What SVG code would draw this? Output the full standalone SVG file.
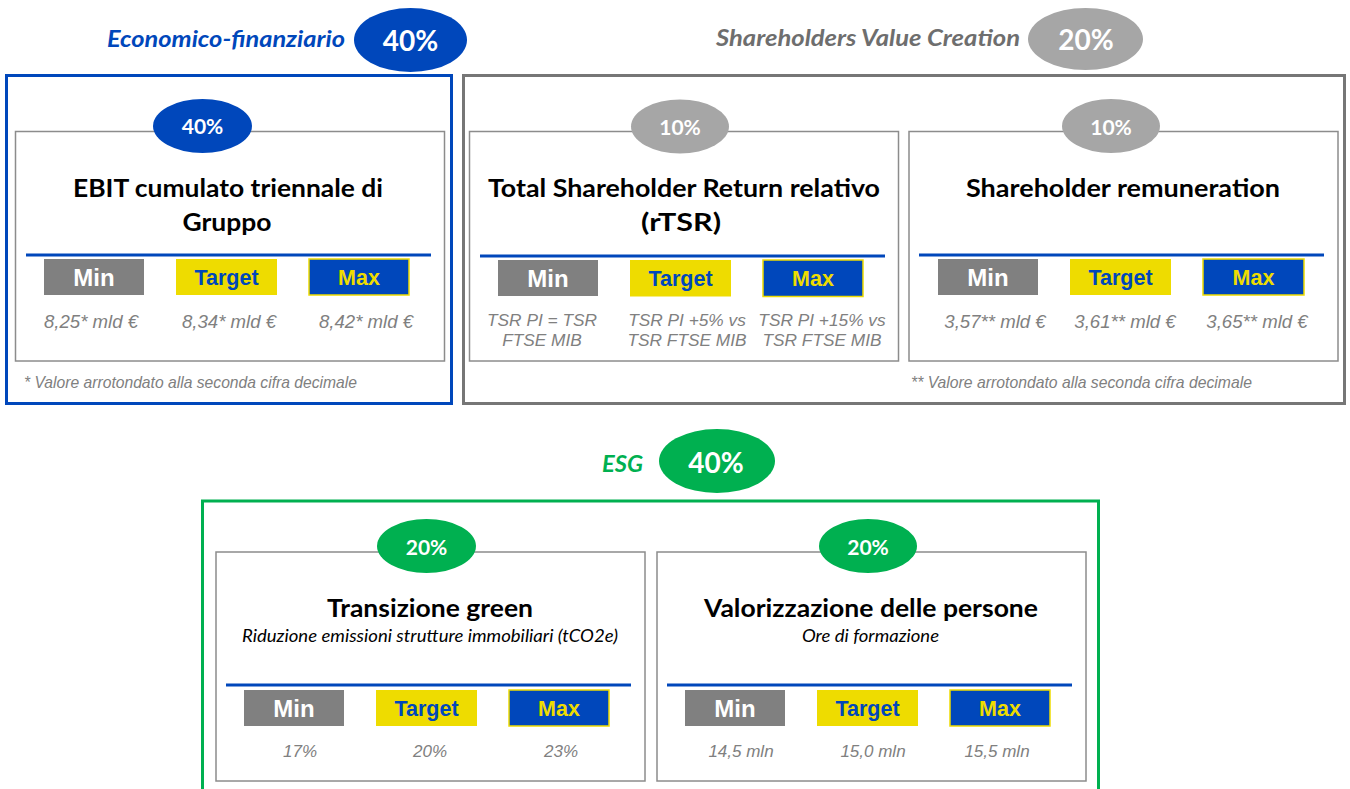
<svg xmlns="http://www.w3.org/2000/svg" width="1350" height="789" viewBox="0 0 1350 789">
  <style>
    .bg { fill: #ffffff; }
    .frame-blue { fill: none; stroke: #0047BB; stroke-width: 3; }
    .frame-gray { fill: none; stroke: #767676; stroke-width: 3; }
    .frame-green { fill: none; stroke: #00B050; stroke-width: 3; }
    .card { fill: #ffffff; stroke: #8C8C8C; stroke-width: 1.5; }
    .rule { stroke: #0047BB; stroke-width: 3; }
    .pill-blue { fill: #0047BB; }
    .pill-gray { fill: #A6A6A6; }
    .pill-green { fill: #00B050; }
    .pct { font-family: Lato, "Open Sans", sans-serif; font-weight: 700; fill: #ffffff; text-anchor: middle; }
    .pct-lg { font-size: 28px; }
    .pct-sm { font-size: 21px; }
    .head { font-family: Lato, "Open Sans", sans-serif; font-weight: 700; font-style: italic; font-size: 23px; }
    .title { font-family: Lato, "Open Sans", sans-serif; font-weight: 700; font-size: 24px; fill: #000000; text-anchor: middle; }
    .sub { font-family: Lato, "Open Sans", sans-serif; font-style: italic; font-size: 17px; fill: #000000; text-anchor: middle; }
    .box-min { fill: #808080; }
    .box-target { fill: #EEDC00; }
    .box-max { fill: #0047BB; stroke: #EEDC00; stroke-width: 1.5; }
    .lbl { font-family: "Liberation Sans", Arial, sans-serif; font-weight: 700; text-anchor: middle; }
    .lbl-min { fill: #ffffff; font-size: 24px; }
    .lbl-target { fill: #0047BB; font-size: 21.5px; }
    .lbl-max { fill: #EEDC00; font-size: 21.5px; }
    .val { font-family: "Liberation Sans", Arial, sans-serif; font-style: italic; fill: #808080; text-anchor: middle; }
    .note { font-family: "Liberation Sans", Arial, sans-serif; font-style: italic; fill: #808080; font-size: 15.7px; }
  </style>

  <rect class="bg" x="0" y="0" width="1350" height="789"/>

  <!-- Economico-finanziario block -->
  <g id="economico-finanziario">
    <text class="head" x="107" y="47" fill="#0047BB" textLength="238" lengthAdjust="spacingAndGlyphs">Economico-finanziario</text>
    <ellipse class="pill-blue" cx="410.5" cy="40" rx="56.5" ry="32"/>
    <text class="pct pct-lg" x="410.5" y="51">40%</text>
    <rect class="frame-blue" x="6.5" y="75.5" width="445" height="328"/>
    <text class="note" x="24" y="388" textLength="333" lengthAdjust="spacingAndGlyphs">* Valore arrotondato alla seconda cifra decimale</text>
  </g>

  <g id="ebit">
    <rect class="card" x="15.5" y="131.5" width="429" height="229.5"/>
    <ellipse class="pill-blue" cx="202.5" cy="126" rx="49.5" ry="27"/>
    <text class="pct pct-sm" x="202.5" y="134">40%</text>
    <text class="title" x="228" y="197" textLength="310" lengthAdjust="spacingAndGlyphs">EBIT cumulato triennale di</text>
    <text class="title" x="227" y="231" textLength="89" lengthAdjust="spacingAndGlyphs">Gruppo</text>
    <line class="rule" x1="26" y1="255" x2="431" y2="255"/>
    <rect class="box-min" x="44" y="259" width="100" height="36"/>
    <text class="lbl lbl-min" x="94" y="286">Min</text>
    <rect class="box-target" x="176" y="259" width="101" height="36"/>
    <text class="lbl lbl-target" x="226.5" y="284.5">Target</text>
    <rect class="box-max" x="309" y="259" width="100" height="36"/>
    <text class="lbl lbl-max" x="359" y="284.5">Max</text>
    <text class="val" x="91" y="328" font-size="18.6">8,25* mld €</text>
    <text class="val" x="229" y="328" font-size="18.6">8,34* mld €</text>
    <text class="val" x="366" y="328" font-size="18.6">8,42* mld €</text>
  </g>

  <!-- Shareholders Value Creation block -->
  <g id="shareholders-value-creation">
    <text class="head" x="716" y="46" fill="#6E6E6E" textLength="304" lengthAdjust="spacingAndGlyphs">Shareholders Value Creation</text>
    <ellipse class="pill-gray" cx="1085.5" cy="39" rx="57.5" ry="31"/>
    <text class="pct pct-lg" x="1086" y="50">20%</text>
    <rect class="frame-gray" x="463.5" y="75.5" width="881" height="328"/>
    <text class="note" x="911" y="388" textLength="341" lengthAdjust="spacingAndGlyphs">** Valore arrotondato alla seconda cifra decimale</text>
  </g>

  <g id="rtsr">
    <rect class="card" x="469.5" y="131.5" width="429" height="229.5"/>
    <ellipse class="pill-gray" cx="680" cy="126.5" rx="49" ry="27"/>
    <text class="pct pct-sm" x="680" y="135">10%</text>
    <text class="title" x="684" y="197" textLength="392" lengthAdjust="spacingAndGlyphs">Total Shareholder Return relativo</text>
    <text class="title" x="681" y="231" textLength="80" lengthAdjust="spacingAndGlyphs">(rTSR)</text>
    <line class="rule" x1="480" y1="256" x2="885" y2="256"/>
    <rect class="box-min" x="498" y="260" width="100" height="36"/>
    <text class="lbl lbl-min" x="548" y="287">Min</text>
    <rect class="box-target" x="630" y="260" width="101" height="36.5"/>
    <text class="lbl lbl-target" x="680.5" y="285.5">Target</text>
    <rect class="box-max" x="763" y="260" width="100" height="36.5"/>
    <text class="lbl lbl-max" x="813" y="285.5">Max</text>
    <text class="val" x="542" y="326" font-size="17.3">TSR PI = TSR</text>
    <text class="val" x="542" y="346" font-size="17.3">FTSE MIB</text>
    <text class="val" x="687" y="326" font-size="17.3">TSR PI +5% vs</text>
    <text class="val" x="687" y="346" font-size="17.3">TSR FTSE MIB</text>
    <text class="val" x="822" y="326" font-size="17.3">TSR PI +15% vs</text>
    <text class="val" x="822" y="346" font-size="17.3">TSR FTSE MIB</text>
  </g>

  <g id="shareholder-remuneration">
    <rect class="card" x="909" y="131.5" width="429" height="229.5"/>
    <ellipse class="pill-gray" cx="1111" cy="126" rx="49" ry="27"/>
    <text class="pct pct-sm" x="1111" y="134.5">10%</text>
    <text class="title" x="1123" y="197" textLength="314" lengthAdjust="spacingAndGlyphs">Shareholder remuneration</text>
    <line class="rule" x1="919" y1="255" x2="1324" y2="255"/>
    <rect class="box-min" x="938" y="259" width="100" height="36"/>
    <text class="lbl lbl-min" x="988" y="286">Min</text>
    <rect class="box-target" x="1070" y="259" width="101" height="36"/>
    <text class="lbl lbl-target" x="1120.5" y="284.5">Target</text>
    <rect class="box-max" x="1203" y="259" width="101" height="36"/>
    <text class="lbl lbl-max" x="1253.5" y="284.5">Max</text>
    <text class="val" x="995" y="328" font-size="18.6">3,57** mld €</text>
    <text class="val" x="1125" y="328" font-size="18.6">3,61** mld €</text>
    <text class="val" x="1257" y="328" font-size="18.6">3,65** mld €</text>
  </g>

  <!-- ESG block -->
  <g id="esg">
    <text class="head" x="602" y="472" fill="#00B050" textLength="41" lengthAdjust="spacingAndGlyphs">ESG</text>
    <ellipse class="pill-green" cx="717" cy="461" rx="58" ry="32"/>
    <text class="pct pct-lg" x="716" y="473">40%</text>
    <rect class="frame-green" x="202.5" y="501" width="896" height="300"/>
  </g>

  <g id="transizione-green">
    <rect class="card" x="216" y="552" width="429" height="229"/>
    <ellipse class="pill-green" cx="426.5" cy="546" rx="49.5" ry="27"/>
    <text class="pct pct-sm" x="426.5" y="555">20%</text>
    <text class="title" x="430" y="617" textLength="206" lengthAdjust="spacingAndGlyphs">Transizione green</text>
    <text class="sub" x="430" y="642" textLength="376" lengthAdjust="spacingAndGlyphs">Riduzione emissioni strutture immobiliari (tCO2e)</text>
    <line class="rule" x1="226" y1="685" x2="631" y2="685"/>
    <rect class="box-min" x="244" y="690" width="100" height="36"/>
    <text class="lbl lbl-min" x="294" y="717">Min</text>
    <rect class="box-target" x="376" y="690" width="101" height="36"/>
    <text class="lbl lbl-target" x="426.5" y="715.5">Target</text>
    <rect class="box-max" x="509" y="690" width="100" height="36"/>
    <text class="lbl lbl-max" x="559" y="715.5">Max</text>
    <text class="val" x="300" y="757" font-size="17">17%</text>
    <text class="val" x="430" y="757" font-size="17">20%</text>
    <text class="val" x="561" y="757" font-size="17">23%</text>
  </g>

  <g id="valorizzazione-persone">
    <rect class="card" x="657" y="552" width="429" height="229"/>
    <ellipse class="pill-green" cx="868" cy="546" rx="49" ry="27"/>
    <text class="pct pct-sm" x="868" y="555">20%</text>
    <text class="title" x="871" y="617" textLength="334" lengthAdjust="spacingAndGlyphs">Valorizzazione delle persone</text>
    <text class="sub" x="870.5" y="642" textLength="137" lengthAdjust="spacingAndGlyphs">Ore di formazione</text>
    <line class="rule" x1="667" y1="685" x2="1072" y2="685"/>
    <rect class="box-min" x="685" y="690" width="100" height="36"/>
    <text class="lbl lbl-min" x="735" y="717">Min</text>
    <rect class="box-target" x="817" y="690" width="101" height="36"/>
    <text class="lbl lbl-target" x="867.5" y="715.5">Target</text>
    <rect class="box-max" x="950" y="690" width="100" height="36"/>
    <text class="lbl lbl-max" x="1000" y="715.5">Max</text>
    <text class="val" x="741" y="757" font-size="17">14,5 mln</text>
    <text class="val" x="873" y="757" font-size="17">15,0 mln</text>
    <text class="val" x="997" y="757" font-size="17">15,5 mln</text>
  </g>
</svg>
